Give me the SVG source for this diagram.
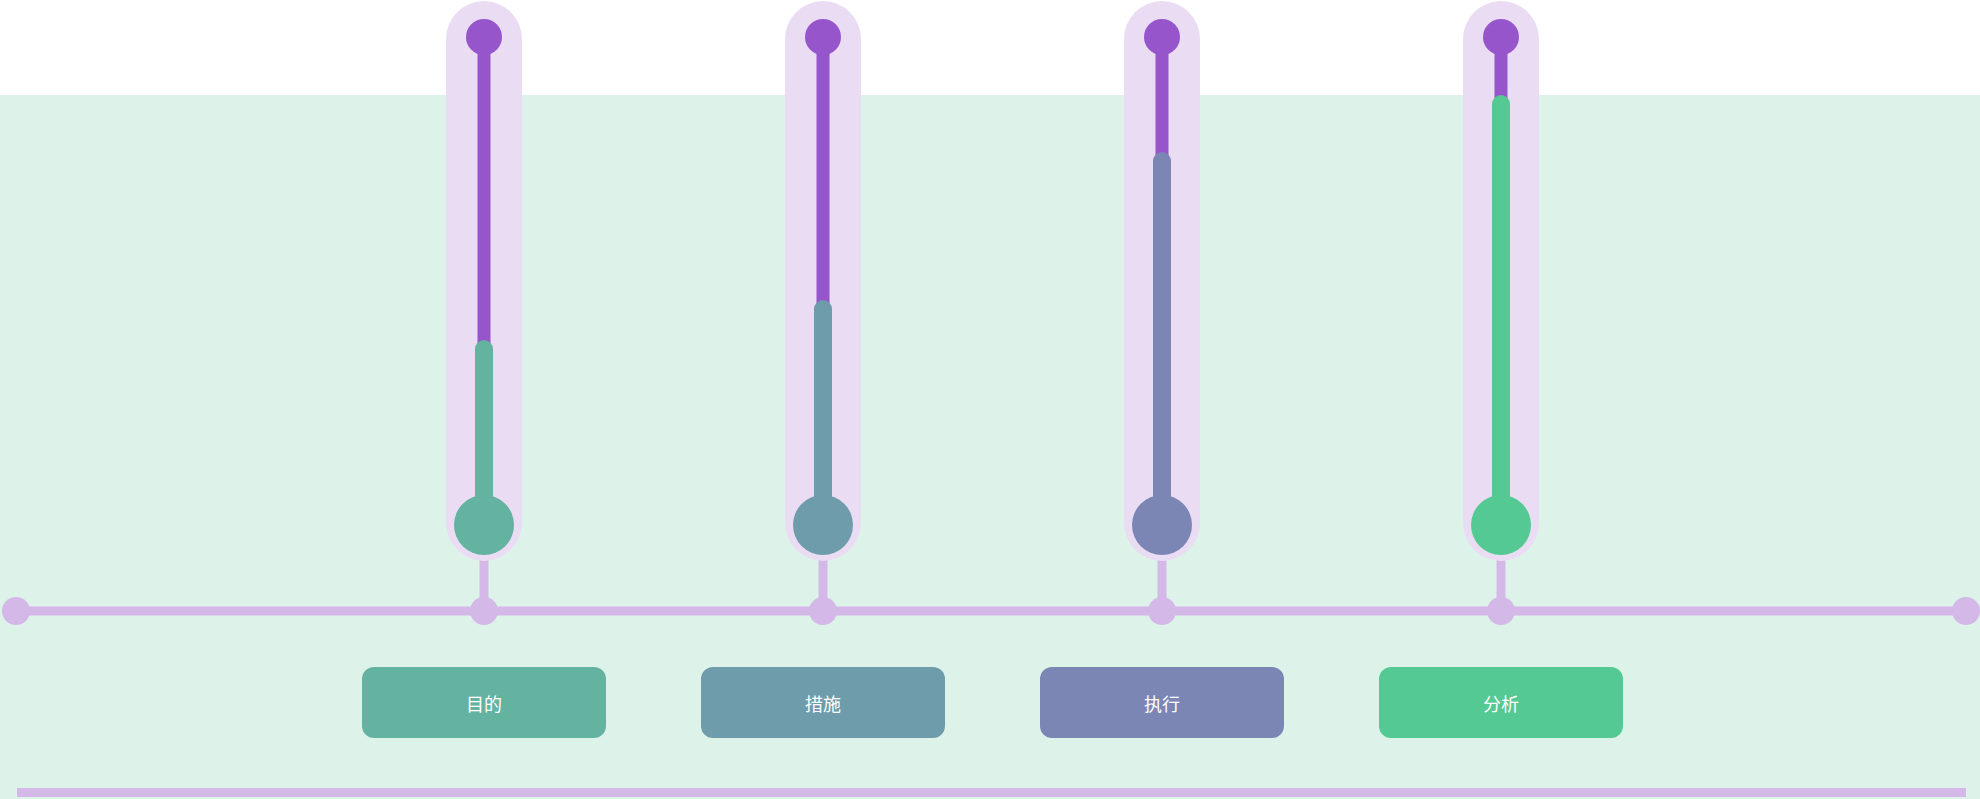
<svg xmlns="http://www.w3.org/2000/svg" width="1980" height="799" viewBox="0 0 1980 799">
<style>
.cap{fill:#EADDF3}
.pst{fill:#9755CB}
.ln{stroke:#D4B8E8;stroke-width:9;fill:none}
.dot{fill:#D4B8E8}
.lbl{font-family:"Noto Sans CJK SC","Noto Sans",sans-serif;font-size:18px;fill:#FFFFFF;text-anchor:middle;dominant-baseline:central}
</style>
<rect x="0" y="0" width="1980" height="799" fill="#FFFFFF"/>
<rect x="0" y="95" width="1980" height="704" fill="#DDF3EA"/>
<g id="connectors">
<line class="ln" x1="484" y1="560" x2="484" y2="611"/>
<line class="ln" x1="823" y1="560" x2="823" y2="611"/>
<line class="ln" x1="1162" y1="560" x2="1162" y2="611"/>
<line class="ln" x1="1501" y1="560" x2="1501" y2="611"/>
<line class="ln" x1="16" y1="611" x2="1966" y2="611"/>
<circle class="dot" cx="16" cy="611" r="14"/>
<circle class="dot" cx="484" cy="611" r="14"/>
<circle class="dot" cx="823" cy="611" r="14"/>
<circle class="dot" cx="1162" cy="611" r="14"/>
<circle class="dot" cx="1501" cy="611" r="14"/>
<circle class="dot" cx="1966" cy="611" r="14"/>
<line class="ln" x1="17" y1="792.5" x2="1966" y2="792.5"/>
</g>
<g id="col1">
<rect class="cap" x="446" y="1" width="76" height="560" rx="38"/>
<circle class="pst" cx="484" cy="37" r="18"/>
<rect class="pst" x="477.5" y="37" width="13" height="320"/>
<rect x="475" y="340" width="18" height="190" rx="9" fill="#64B2A0"/>
<circle cx="484" cy="525" r="30" fill="#64B2A0"/>
</g>
<g id="col2">
<rect class="cap" x="785" y="1" width="76" height="560" rx="38"/>
<circle class="pst" cx="823" cy="37" r="18"/>
<rect class="pst" x="816.5" y="37" width="13" height="280"/>
<rect x="814" y="300" width="18" height="230" rx="9" fill="#6E9CAA"/>
<circle cx="823" cy="525" r="30" fill="#6E9CAA"/>
</g>
<g id="col3">
<rect class="cap" x="1124" y="1" width="76" height="560" rx="38"/>
<circle class="pst" cx="1162" cy="37" r="18"/>
<rect class="pst" x="1155.5" y="37" width="13" height="130"/>
<rect x="1153" y="152" width="18" height="378" rx="9" fill="#7C86B5"/>
<circle cx="1162" cy="525" r="30" fill="#7C86B5"/>
</g>
<g id="col4">
<rect class="cap" x="1463" y="1" width="76" height="560" rx="38"/>
<circle class="pst" cx="1501" cy="37" r="18"/>
<rect class="pst" x="1494.5" y="37" width="13" height="70"/>
<rect x="1492" y="95" width="18" height="435" rx="9" fill="#55C994"/>
<circle cx="1501" cy="525" r="30" fill="#55C994"/>
</g>
<g id="box1">
<rect x="362" y="667" width="244" height="71" rx="12" fill="#64B2A0"/>
<text class="lbl" x="484" y="702.5">目的</text>
</g>
<g id="box2">
<rect x="701" y="667" width="244" height="71" rx="12" fill="#6E9CAA"/>
<text class="lbl" x="823" y="702.5">措施</text>
</g>
<g id="box3">
<rect x="1040" y="667" width="244" height="71" rx="12" fill="#7C86B5"/>
<text class="lbl" x="1162" y="702.5">执行</text>
</g>
<g id="box4">
<rect x="1379" y="667" width="244" height="71" rx="12" fill="#55C994"/>
<text class="lbl" x="1501" y="702.5">分析</text>
</g>
</svg>
